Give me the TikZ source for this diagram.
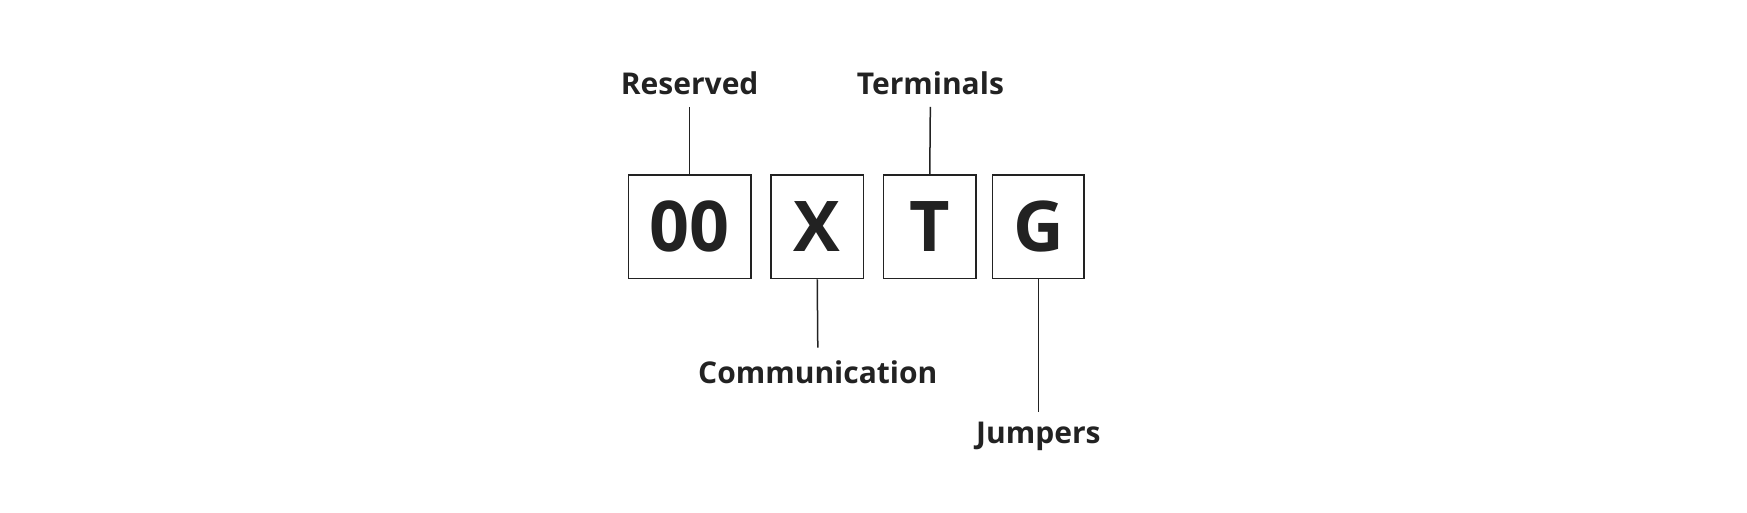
\documentclass[tikz,border=0pt]{standalone}
\usepackage{fontspec}
\setmainfont{Open Sans}
\begin{document}
\begin{tikzpicture}[x=1.114pt,y=-1.114pt,
  box/.style={draw=ink,line width=1.5pt,inner sep=0pt,minimum height=103.6pt,
    font=\fontsize{70}{80}\selectfont\bfseries,text=ink},
  lbl/.style={text=ink,font=\fontsize{30}{36}\selectfont\bfseries,inner sep=0pt},
  lead/.style={draw=ink,line width=1.5pt}]
\definecolor{ink}{HTML}{222222}
\useasboundingbox (0,0) rectangle (1568,459.6);
\node[box,minimum width=122.5pt] (a) at (619,203.5) {00};
\node[box,minimum width=92.5pt] (b) at (733.5,203.5) {X};
\node[box,minimum width=92.5pt] (c) at (834.5,203.5) {T};
\node[box,minimum width=91.4pt] (d) at (932,203.5) {G};
\node[lbl] (res) at (619,75) {Reserved};
\node[lbl] (ter) at (835,75) {Terminals};
\node[lbl] (com) at (734,334) {Communication};
\node[lbl] (jum) at (932,392) {Jumpers};
\coordinate (r1) at (619,96); \coordinate (t1) at (835,96);
\coordinate (c1) at (734,312); \coordinate (j1) at (932,370);
\draw[lead] (r1) -- (a.north);
\draw[lead] (t1) -- (c.north);
\draw[lead] (b.south) -- (c1);
\draw[lead] (d.south) -- (j1);
\end{tikzpicture}
\end{document}
